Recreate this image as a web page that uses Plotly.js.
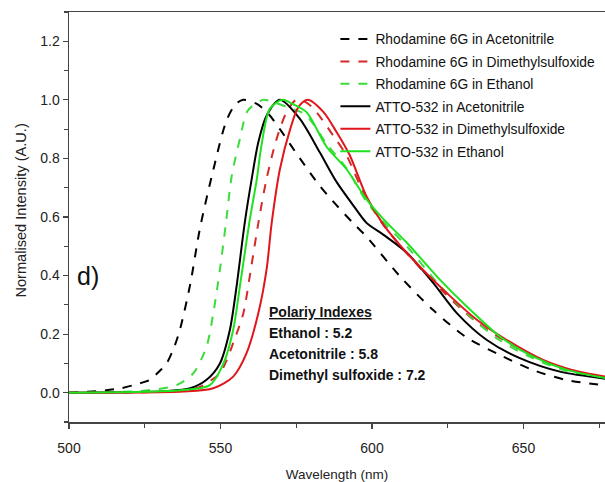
<!DOCTYPE html>
<html>
<head>
<meta charset="utf-8">
<script src="https://cdn.plot.ly/plotly-3.0.1.min.js"></script>
<style>html,body{margin:0;padding:0;background:#fff;} #chart{width:605px;height:482px;}</style>
</head>
<body>
<div id="chart"></div>
<script>
// ---- data ----
const seriesNames = [
  "Rhodamine 6G in Acetonitrile",
  "Rhodamine 6G in Dimethylsulfoxide",
  "Rhodamine 6G in Ethanol",
  "ATTO-532 in Acetonitrile",
  "ATTO-532 in Dimethylsulfoxide",
  "ATTO-532 in Ethanol"
];

const r6gAcnX = [500, 510, 517, 522, 526.7, 529.5, 532.2, 534.5, 536.6, 540, 543.2, 547.6, 552, 555, 557.5, 562, 566, 569.6, 576.2, 582.8, 587, 593.7, 598, 609, 620, 631, 642, 653, 664, 677];
const r6gAcnY = [0.0, 0.006, 0.015, 0.028, 0.044, 0.07, 0.10, 0.15, 0.215, 0.37, 0.56, 0.76, 0.93, 0.985, 1.0, 0.986, 0.95, 0.90, 0.80, 0.706, 0.655, 0.58, 0.535, 0.40, 0.284, 0.19, 0.13, 0.078, 0.044, 0.025];

const r6gDmsoX = [500, 530, 538, 543.2, 546.5, 549.8, 552, 554.2, 557.5, 560, 562.5, 565.2, 568.5, 571.8, 575, 578.5, 581.7, 587.2, 591.6, 598, 604, 612, 623, 634, 645, 656, 666, 677];
const r6gDmsoY = [0.0, 0.003, 0.008, 0.02, 0.04, 0.066, 0.11, 0.17, 0.27, 0.42, 0.58, 0.73, 0.866, 0.958, 1.0, 0.99, 0.958, 0.878, 0.81, 0.665, 0.57, 0.47, 0.35, 0.245, 0.17, 0.11, 0.073, 0.05];

const r6gEtohX = [500, 515, 526.7, 535.5, 541, 545.4, 547.6, 549.8, 551.8, 553.7, 556.4, 559, 564, 568, 572, 578, 585, 592, 598, 604, 611.5, 622, 632, 642, 653, 664, 677];
const r6gEtohY = [0.0, 0.002, 0.009, 0.026, 0.066, 0.158, 0.27, 0.42, 0.58, 0.74, 0.866, 0.963, 1.0, 0.99, 0.975, 0.95, 0.85, 0.76, 0.655, 0.58, 0.50, 0.37, 0.265, 0.18, 0.118, 0.075, 0.048];

const attoAcnX = [500, 520, 532, 540, 545.4, 549.8, 553.1, 555.3, 558, 560.3, 562.5, 565.2, 569.6, 576.2, 582.8, 588.3, 593.8, 598.2, 603.7, 611.5, 620.2, 628, 637.9, 648.8, 662, 677];
const attoAcnY = [0.0, 0.002, 0.005, 0.015, 0.044, 0.10, 0.215, 0.363, 0.58, 0.73, 0.856, 0.946, 1.0, 0.935, 0.82, 0.72, 0.64, 0.58, 0.54, 0.478, 0.375, 0.272, 0.18, 0.118, 0.072, 0.048];

const attoDmsoX = [500, 537.6, 547.6, 554.2, 558.6, 562.5, 565.2, 566.9, 569.6, 573, 575.7, 578.8, 584, 588.3, 592.7, 598.2, 603.7, 612.5, 623.5, 634.5, 644.5, 656.5, 666, 677];
const attoDmsoY = [0.0, 0.004, 0.015, 0.055, 0.135, 0.272, 0.42, 0.58, 0.763, 0.90, 0.975, 1.0, 0.958, 0.89, 0.81, 0.67, 0.575, 0.466, 0.352, 0.25, 0.18, 0.112, 0.078, 0.055];

const attoEtohX = [500, 525, 537.6, 546.5, 551, 554.2, 556.4, 559.5, 562, 563.5, 566.3, 570.4, 574, 578.4, 585, 591.6, 598.2, 604, 611.5, 622.4, 631.2, 642.2, 653.2, 664.3, 677];
const attoEtohY = [0.0, 0.003, 0.009, 0.026, 0.10, 0.215, 0.363, 0.58, 0.73, 0.843, 0.97, 1.0, 0.985, 0.958, 0.84, 0.763, 0.66, 0.59, 0.512, 0.386, 0.295, 0.192, 0.123, 0.078, 0.05];

const yTickVals = [0.0, 0.2, 0.4, 0.6, 0.8, 1.0, 1.2];
const yTickText = ["0.0", "0.2", "0.4", "0.6", "0.8", "1.0", "1.2"];
const xTickVals = [500, 550, 600, 650];

const xTitle = "Wavelength (nm)";
const yTitle = "Normalised Intensity (A.U.)";
const panelLabel = "d)";
const polarityTitle = "Polariy Indexes";
const polarityLines = ["Ethanol : 5.2", "Acetonitrile : 5.8", "Dimethyl sulfoxide : 7.2"];

// ---- styling ----
const FONT = "Liberation Sans, Arial, sans-serif";
const BLACK = "#000000", RED = "#e0161c", RED_D = "#d42a2a", GREEN = "#1fe21f", GREEN_D = "#3ddc3d";

function tr(x, y, name, color, dash, i) {
  return {x: x, y: y, name: name, legendgroup: "g" + i, type: "scatter", mode: "lines",
          line: {color: color, width: 2, dash: dash, shape: "spline", smoothing: 0.8}};
}

const data = [
  tr(r6gAcnX, r6gAcnY, seriesNames[0], BLACK, "dash", 0),
  tr(r6gDmsoX, r6gDmsoY, seriesNames[1], RED_D, "dash", 1),
  tr(r6gEtohX, r6gEtohY, seriesNames[2], GREEN_D, "dash", 2),
  tr(attoAcnX, attoAcnY, seriesNames[3], BLACK, "solid", 3),
  tr(attoDmsoX, attoDmsoY, seriesNames[4], RED, "solid", 4),
  tr(attoEtohX, attoEtohY, seriesNames[5], GREEN, "solid", 5)
];

// polarity annotations, one per line
const polAnn = [];
const polAll = ["<b><u>" + polarityTitle + "</u></b>"].concat(polarityLines.map(s => "<b>" + s + "</b>"));
polAll.forEach((t, i) => {
  polAnn.push({xref: "paper", yref: "paper", x: 0.369, y: 0.269 - i * 0.0512, text: t, showarrow: false,
               xanchor: "left", yanchor: "middle", align: "left",
               font: {family: FONT, size: 14, color: "#111"}});
});

const layout = {
  width: 605, height: 482,
  margin: {l: 69, r: 0, t: 12, b: 60, pad: 0, autoexpand: false},
  paper_bgcolor: "#fff", plot_bgcolor: "#fff",
  font: {family: FONT, size: 14, color: "#222"},
  showlegend: true,
  legend: {x: 0.497, y: 0.972, xanchor: "left", yanchor: "top", bgcolor: "rgba(0,0,0,0)",
           font: {family: FONT, size: 13.8, color: "#111"}, tracegroupgap: 1.5, itemwidth: 30},
  xaxis: {range: [500, 676.9], showgrid: false, zeroline: false,
          showline: true, linecolor: "#444", linewidth: 1.5, mirror: true,
          ticks: "outside", ticklen: 5, tickwidth: 1.2, tickcolor: "#444",
          tickvals: xTickVals, tickfont: {family: FONT, size: 14, color: "#222"}, ticklabelstandoff: 8,
          minor: {dtick: 25, tick0: 500, ticks: "outside", ticklen: 4, tickwidth: 1.2, tickcolor: "#444"},
          title: {text: xTitle, font: {family: FONT, size: 13.5, color: "#222"}, standoff: 18}},
  yaxis: {range: [-0.1, 1.3], showgrid: false, zeroline: false,
          showline: true, linecolor: "#444", linewidth: 1.5,
          ticks: "outside", ticklen: 5, tickwidth: 1.2, tickcolor: "#444",
          tickvals: yTickVals, ticktext: yTickText, tickfont: {family: FONT, size: 14, color: "#222"},
          minor: {dtick: 0.1, tick0: 0, ticks: "outside", ticklen: 4, tickwidth: 1.2, tickcolor: "#444"}},
  annotations: [
    {x: 502, y: 0.4, xref: "x", yref: "y", text: panelLabel, showarrow: false, xanchor: "left", yanchor: "middle",
     font: {family: FONT, size: 25, color: "#111"}},
    {x: -0.09, y: 0.515, xref: "paper", yref: "paper", text: yTitle, textangle: -90, showarrow: false,
     xanchor: "center", yanchor: "middle", font: {family: FONT, size: 14.6, color: "#222"}}
  ].concat(polAnn)
};

Plotly.newPlot("chart", data, layout, {staticPlot: true, displayModeBar: false});
</script>
</body>
</html>
